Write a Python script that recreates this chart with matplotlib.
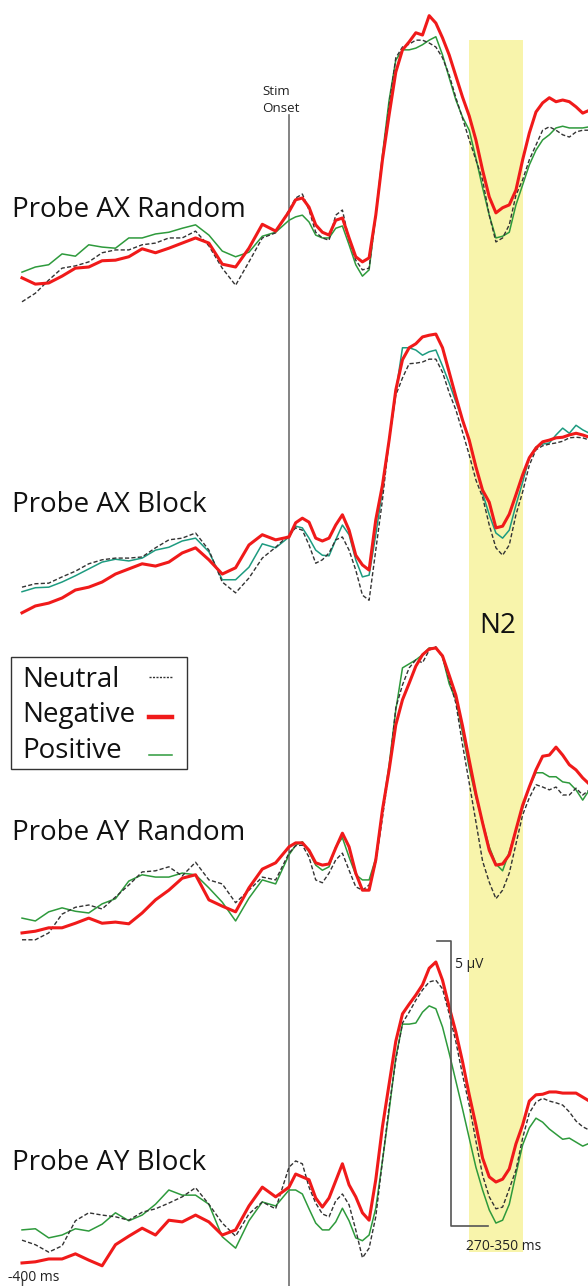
import numpy as np
import matplotlib.pyplot as plt
from matplotlib.patches import Rectangle

plt.rcParams['font.family'] = ['Open Sans', 'DejaVu Sans']

# sample times in ms: 20 ms steps before stimulus onset, 10 ms after
times = np.array(list(range(-400, 0, 20)) + list(range(0, 451, 10)))

panel_titles = ['Probe AX Random', 'Probe AX Block', 'Probe AY Random', 'Probe AY Block']
conditions = ['Neutral', 'Negative', 'Positive']
n2_window = (270, 350)   # shaded N2 window, ms
scale_uv = 5

# grand-average amplitudes (µV), one list per probe type and valence
ax_random_neutral = [-1.47, -1.32, -1.09, -0.88, -0.84, -0.77, -0.61, -0.56, -0.56, -0.47,
                     -0.44, -0.35, -0.35, -0.23, -0.49, -0.88, -1.18, -0.77, -0.35, -0.26,
                     0.14, 0.35, 0.42, 0.14, -0.25, -0.35, -0.39, 0.05, 0.14, -0.39,
                     -0.74, -0.91, -0.88, 0.05, 1.05, 1.98, 2.81, 3.00, 3.05, 3.12,
                     3.12, 3.07, 3.00, 2.81, 2.51, 2.11, 1.75, 1.37, 1.02, 0.67,
                     0.05, -0.42, -0.35, -0.12, 0.40, 0.67, 1.02, 1.28, 1.54, 1.60,
                     1.54, 1.46, 1.42, 1.51, 1.54, 1.54]
ax_random_negative = [-1.05, -1.16, -1.14, -1.02, -0.88, -0.86, -0.75, -0.74, -0.68, -0.54,
                      -0.61, -0.53, -0.44, -0.35, -0.44, -0.81, -0.86, -0.53, -0.11, -0.23,
                      0.11, 0.32, 0.35, 0.19, -0.12, -0.25, -0.30, -0.04, 0.00, -0.35,
                      -0.68, -0.77, -0.70, 0.05, 1.02, 1.81, 2.56, 2.95, 3.09, 3.25,
                      3.21, 3.55, 3.42, 3.16, 2.86, 2.49, 2.12, 1.79, 1.37, 0.84,
                      0.37, 0.09, 0.18, 0.23, 0.49, 1.02, 1.49, 1.86, 2.02, 2.11,
                      2.04, 2.07, 2.04, 1.95, 1.84, 1.89]
ax_random_positive = [-0.95, -0.86, -0.82, -0.63, -0.67, -0.47, -0.51, -0.53, -0.35, -0.35,
                      -0.28, -0.25, -0.18, -0.12, -0.30, -0.58, -0.68, -0.60, -0.32, -0.25,
                      -0.04, 0.02, 0.05, -0.07, -0.30, -0.35, -0.35, -0.18, -0.14, -0.47,
                      -0.82, -1.02, -0.91, 0.05, 1.11, 2.07, 2.77, 2.95, 2.95, 2.98,
                      3.04, 3.12, 3.18, 2.86, 2.46, 2.07, 1.77, 1.54, 1.05, 0.53,
                      0.05, -0.35, -0.32, -0.25, 0.23, 0.58, 0.93, 1.19, 1.37, 1.46,
                      1.58, 1.61, 1.58, 1.58, 1.58, 1.60]

ax_block_neutral = [-0.88, -0.82, -0.81, -0.70, -0.60, -0.47, -0.40, -0.37, -0.37, -0.35,
                    -0.19, -0.05, -0.02, 0.07, -0.23, -0.79, -0.98, -0.72, -0.37, -0.18,
                    0.04, 0.16, 0.12, -0.14, -0.46, -0.40, -0.28, -0.05, 0.00, -0.23,
                    -0.58, -1.02, -1.11, -0.23, 0.65, 1.70, 2.49, 2.79, 3.04, 3.05,
                    3.07, 3.12, 3.12, 2.89, 2.53, 2.23, 1.84, 1.44, 1.00, 0.70,
                    0.21, -0.19, -0.32, -0.14, 0.39, 0.79, 1.26, 1.53, 1.60, 1.63,
                    1.65, 1.68, 1.74, 1.75, 1.74, 1.70]
ax_block_negative = [-1.33, -1.21, -1.16, -1.07, -0.93, -0.88, -0.79, -0.65, -0.56, -0.47,
                     -0.51, -0.44, -0.28, -0.19, -0.40, -0.65, -0.54, -0.14, 0.04, -0.05,
                     0.00, 0.25, 0.33, 0.26, -0.02, -0.07, -0.02, 0.21, 0.39, 0.12,
                     -0.32, -0.49, -0.58, 0.30, 0.91, 1.70, 2.58, 3.11, 3.32, 3.39,
                     3.51, 3.54, 3.56, 3.32, 2.89, 2.46, 2.05, 1.70, 1.23, 0.82,
                     0.61, 0.16, 0.19, 0.40, 0.74, 1.09, 1.39, 1.56, 1.67, 1.70,
                     1.74, 1.75, 1.79, 1.82, 1.79, 1.75]
ax_block_positive = [-0.96, -0.89, -0.88, -0.79, -0.68, -0.56, -0.44, -0.39, -0.42, -0.37,
                     -0.23, -0.18, -0.07, -0.02, -0.26, -0.75, -0.75, -0.53, -0.12, -0.19,
                     0.00, 0.19, 0.16, -0.02, -0.23, -0.32, -0.33, -0.05, 0.21, 0.04,
                     -0.40, -0.70, -0.67, 0.04, 0.82, 1.70, 2.54, 3.32, 3.32, 3.28,
                     3.19, 3.25, 3.28, 3.00, 2.70, 2.37, 2.05, 1.70, 1.25, 0.77,
                     0.39, 0.07, -0.02, 0.12, 0.56, 0.96, 1.39, 1.58, 1.63, 1.65,
                     1.79, 1.91, 1.82, 1.96, 1.88, 1.82]

ay_random_neutral = [-1.61, -1.61, -1.49, -1.16, -1.04, -1.00, -1.07, -0.86, -0.65, -0.42,
                     -0.40, -0.33, -0.49, -0.25, -0.56, -0.63, -0.96, -0.74, -0.51, -0.56,
                     -0.09, 0.04, 0.05, -0.16, -0.56, -0.61, -0.44, -0.21, -0.09, -0.39,
                     -0.68, -0.74, -0.65, -0.26, 0.53, 1.37, 2.46, 2.86, 3.16, 3.30,
                     3.25, 3.47, 3.53, 3.35, 2.95, 2.54, 1.81, 1.14, 0.46, -0.23,
                     -0.60, -0.89, -0.74, -0.44, 0.07, 0.58, 0.88, 1.11, 1.07, 1.02,
                     1.07, 0.93, 0.93, 1.05, 0.93, 1.02]
ay_random_negative = [-1.49, -1.46, -1.40, -1.40, -1.32, -1.23, -1.32, -1.30, -1.33, -1.14,
                      -0.91, -0.74, -0.53, -0.47, -0.91, -1.02, -1.12, -0.70, -0.37, -0.26,
                      0.02, 0.09, 0.09, -0.04, -0.26, -0.30, -0.28, 0.00, 0.26, 0.02,
                      -0.44, -0.74, -0.74, -0.21, 0.67, 1.37, 2.16, 2.60, 2.89, 3.19,
                      3.39, 3.49, 3.51, 3.37, 3.03, 2.68, 2.14, 1.54, 0.95, 0.44,
                      -0.04, -0.30, -0.28, -0.12, 0.32, 0.75, 1.07, 1.37, 1.61, 1.63,
                      1.77, 1.63, 1.46, 1.37, 1.23, 1.12]
ay_random_positive = [-1.23, -1.28, -1.12, -1.05, -1.11, -1.14, -0.98, -0.89, -0.58, -0.47,
                      -0.51, -0.51, -0.44, -0.47, -0.70, -0.95, -1.28, -0.88, -0.56, -0.63,
                      -0.12, 0.05, 0.11, -0.07, -0.30, -0.39, -0.33, 0.02, 0.18, -0.16,
                      -0.47, -0.56, -0.56, -0.18, 0.67, 1.46, 2.42, 3.16, 3.23, 3.30,
                      3.39, 3.51, 3.51, 3.35, 2.88, 2.60, 2.02, 1.40, 0.89, 0.46,
                      0.02, -0.28, -0.40, -0.07, 0.32, 0.70, 1.07, 1.32, 1.32, 1.25,
                      1.25, 1.16, 1.14, 1.02, 0.84, 1.02]

ay_block_neutral = [-0.88, -0.96, -1.09, -0.98, -0.54, -0.40, -0.44, -0.47, -0.53, -0.39,
                    -0.33, -0.23, -0.12, 0.04, -0.25, -0.58, -0.81, -0.42, -0.21, -0.33,
                    0.40, 0.51, 0.46, 0.05, -0.23, -0.42, -0.47, -0.19, -0.07, -0.26,
                    -0.70, -1.19, -1.02, -0.47, 0.51, 1.46, 2.28, 2.93, 3.12, 3.33,
                    3.51, 3.65, 3.68, 3.53, 3.09, 2.60, 2.02, 1.49, 0.86, 0.26,
                    -0.12, -0.33, -0.30, 0.02, 0.35, 0.91, 1.35, 1.54, 1.61, 1.56,
                    1.53, 1.49, 1.37, 1.21, 1.11, 1.05]
ay_block_negative = [-1.28, -1.26, -1.21, -1.21, -1.12, -1.23, -1.33, -0.96, -0.81, -0.67,
                     -0.79, -0.53, -0.56, -0.44, -0.56, -0.79, -0.70, -0.28, 0.05, -0.12,
                     0.05, 0.28, 0.23, 0.18, -0.14, -0.30, -0.14, 0.16, 0.46, 0.09,
                     -0.12, -0.40, -0.53, 0.18, 1.11, 1.86, 2.61, 3.09, 3.26, 3.42,
                     3.60, 3.89, 4.00, 3.68, 3.21, 2.77, 2.25, 1.67, 1.14, 0.56,
                     0.23, 0.14, 0.19, 0.37, 0.81, 1.14, 1.56, 1.67, 1.68, 1.72,
                     1.72, 1.70, 1.70, 1.70, 1.63, 1.56]
ay_block_positive = [-0.70, -0.68, -0.84, -0.79, -0.68, -0.72, -0.60, -0.40, -0.54, -0.44,
                     -0.25, 0.00, -0.09, -0.09, -0.25, -0.82, -1.02, -0.54, -0.21, -0.28,
                     0.00, 0.00, -0.07, -0.33, -0.58, -0.70, -0.70, -0.56, -0.32, -0.54,
                     -0.84, -0.89, -0.79, -0.32, 0.51, 1.39, 2.33, 2.91, 2.91, 2.93,
                     3.12, 3.23, 3.18, 2.86, 2.40, 1.91, 1.42, 0.91, 0.40, 0.00,
                     -0.35, -0.58, -0.53, -0.25, 0.28, 0.79, 1.09, 1.26, 1.19, 1.07,
                     0.98, 0.89, 0.91, 0.84, 0.77, 0.82]

panels = [
    (ax_random_neutral, ax_random_negative, ax_random_positive),
    (ax_block_neutral, ax_block_negative, ax_block_positive),
    (ay_random_neutral, ay_random_negative, ay_random_positive),
    (ay_block_neutral, ay_block_negative, ay_block_positive),
]

# page layout (pixels)
W, H = 588, 1286
ONSET_X = 289
PX_PER_MS = 0.6675
PX_PER_UV = 57
panel_zero_px = [218, 537, 848, 1190]
title_base_px = [217, 512, 840, 1170]

RED = '#f01a1a'
GREEN = '#2e9a3c'
TEAL = '#1d9b80'
GREY = '#333333'
positive_colors = [GREEN, TEAL, GREEN, GREEN]


def xd(px):
    return (px - ONSET_X) / PX_PER_MS


def yd(py):
    return -py / PX_PER_UV


fig = plt.figure(figsize=(W / 100, H / 100), dpi=100)
ax = fig.add_axes([0, 0, 1, 1])
ax.set_xlim(xd(0), xd(W))
ax.set_ylim(yd(H), 0)
ax.axis('off')

# N2 window and stimulus onset
ax.fill_between(n2_window, yd(1252), yd(40), color='#f8f4ab', lw=0, zorder=0)
ax.plot([0, 0], [yd(115), yd(H)], color='#6e6e6e', lw=1.2, zorder=1)
ax.text(xd(262), yd(95), 'Stim', fontsize=9.6, color='#222222')
ax.text(xd(262), yd(112), 'Onset', fontsize=9.6, color='#222222')

for i, (neu, neg, pos) in enumerate(panels):
    off = yd(panel_zero_px[i])
    ax.plot(times, np.array(pos) + off, color=positive_colors[i], lw=1.1, zorder=2)
    ax.plot(times, np.array(neu) + off, color=GREY, lw=1.0,
            linestyle=(0, (3, 1.6)), zorder=3)
    ax.plot(times, np.array(neg) + off, color=RED, lw=2.2, zorder=4)
    ax.text(xd(12), yd(title_base_px[i]), panel_titles[i], fontsize=20,
            color='#111111', va='baseline')

ax.text(xd(498), yd(633), 'N2', fontsize=20, color='#111111', ha='center', va='baseline')

# legend box
ax.add_patch(Rectangle((xd(11), yd(769)), xd(187) - xd(11), yd(657) - yd(769),
                       fill=False, edgecolor='#333333', lw=1.0, zorder=5))
legend_rows = [
    (conditions[0], 687, 677, dict(color=GREY, lw=1.0, linestyle=(0, (1.5, 1)))),
    (conditions[1], 722, 717, dict(color=RED, lw=3.2)),
    (conditions[2], 758, 755, dict(color=GREEN, lw=1.1)),
]
for label, base, ly, style in legend_rows:
    ax.text(xd(22), yd(base), label, fontsize=20, color='#111111', va='baseline', zorder=6)
    ax.plot([xd(149), xd(172)], [yd(ly), yd(ly)], zorder=6, **style)

# amplitude / latency scale bar
bar_top = yd(941)
bar_x = xd(451)
ax.plot([xd(437), bar_x, bar_x, xd(488)],
        [bar_top, bar_top, bar_top - scale_uv, bar_top - scale_uv],
        color='#555555', lw=1.2, zorder=5)
ax.text(xd(455), yd(968), f'{scale_uv} µV', fontsize=10, color='#222222')
ax.text(xd(504), yd(1250), f'{n2_window[0]}-{n2_window[1]} ms', fontsize=10,
        color='#222222', ha='center')

# start of epoch
ax.plot([-400, -400], [yd(1279), yd(H)], color='#444444', lw=1.0)
ax.text(xd(8), yd(1281), '-400 ms', fontsize=10, color='#222222')

fig.savefig('out.png', dpi=100)
